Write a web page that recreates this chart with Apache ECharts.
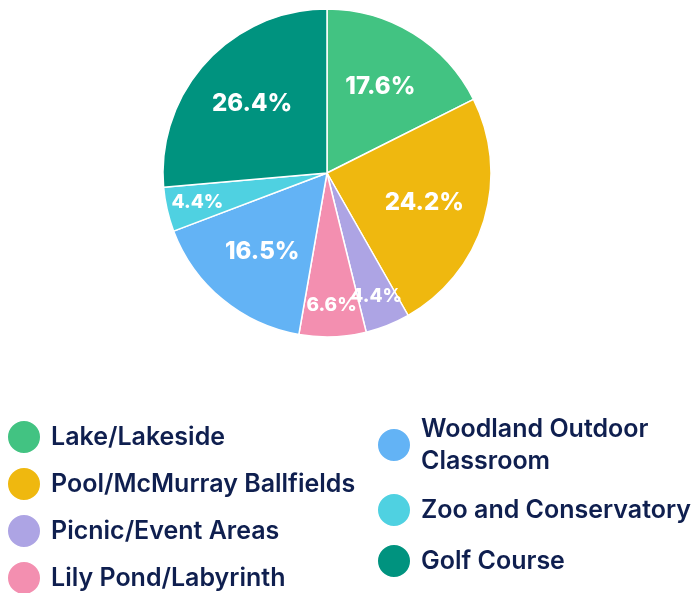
<!DOCTYPE html>
<html>
<head>
<meta charset="utf-8">
<script src="https://cdn.jsdelivr.net/npm/echarts@6/dist/echarts.min.js"></script>
<style>
  html, body { margin: 0; padding: 0; background: #ffffff; }
  #chart { width: 697px; height: 593px; }
</style>
</head>
<body>
<div id="chart"></div>
<script>
// Share of visits by park area (percent)
const categories = [
  'Lake/Lakeside',
  'Pool/McMurray Ballfields',
  'Picnic/Event Areas',
  'Lily Pond/Labyrinth',
  'Woodland Outdoor Classroom',
  'Zoo and Conservatory',
  'Golf Course'
];
const shares = [17.6, 24.2, 4.4, 6.6, 16.5, 4.4, 26.4];
const colors = ['#42c382', '#efb80f', '#ada4e4', '#f38fb0', '#63b3f5', '#4fd1e1', '#00937f'];

const leftLegendNames = categories.slice(0, 4);
const rightLegendNames = categories.slice(4);

const CENTER = [327, 173];
const RADIUS = 164;
const total = shares.reduce((a, b) => a + b, 0);

// mid-angle of each slice, measured clockwise from 12 o'clock
const midAngles = [];
let acc = 0;
shares.forEach(v => {
  midAngles.push(((acc + v / 2) / total) * Math.PI * 2);
  acc += v;
});

const chart = echarts.init(document.getElementById('chart'), null, { renderer: 'canvas' });

const legendText = {
  fontFamily: 'Inter, "Noto Sans", sans-serif',
  fontSize: 25,
  fontWeight: 600,
  color: '#0f1f4f',
  lineHeight: 32,
  padding: [0, 0, 0, 5]
};

chart.setOption({
  backgroundColor: '#ffffff',
  color: colors,
  legend: [
    {
      data: leftLegendNames,
      orient: 'vertical',
      left: 6,
      top: 419,
      height: 400,
      padding: 0,
      icon: 'circle',
      itemWidth: 34,
      itemHeight: 34,
      itemGap: 11,
      selectedMode: false,
      textStyle: legendText
    },
    {
      data: rightLegendNames,
      orient: 'vertical',
      left: 376,
      top: 413,
      height: 400,
      padding: 0,
      icon: 'circle',
      itemWidth: 34,
      itemHeight: 34,
      itemGap: 15,
      selectedMode: false,
      formatter: name => name === 'Woodland Outdoor Classroom' ? 'Woodland Outdoor\nClassroom' : name,
      textStyle: legendText
    }
  ],
  series: [
    {
      type: 'pie',
      center: CENTER,
      radius: [0, RADIUS],
      startAngle: 90,
      clockwise: true,
      animation: false,
      itemStyle: { borderColor: '#ffffff', borderWidth: 1.5 },
      label: {
        show: true,
        position: 'inside',
        formatter: p => p.value.toFixed(1) + '%',
        color: '#ffffff',
        fontFamily: 'Inter, "Noto Sans", sans-serif',
        fontWeight: 800,
        fontSize: 24
      },
      labelLine: { show: false },
      labelLayout: params => {
        const i = params.dataIndex;
        const small = shares[i] < 10;
        const f = small ? 0.81 : 0.62;
        const a = midAngles[i];
        return {
          x: CENTER[0] + Math.sin(a) * RADIUS * f,
          y: CENTER[1] - Math.cos(a) * RADIUS * f,
          align: 'center',
          verticalAlign: 'middle',
          fontSize: small ? 19 : 24
        };
      },
      emphasis: { disabled: true },
      data: categories.map((name, i) => ({ name, value: shares[i] }))
    }
  ]
});
</script>
</body>
</html>
